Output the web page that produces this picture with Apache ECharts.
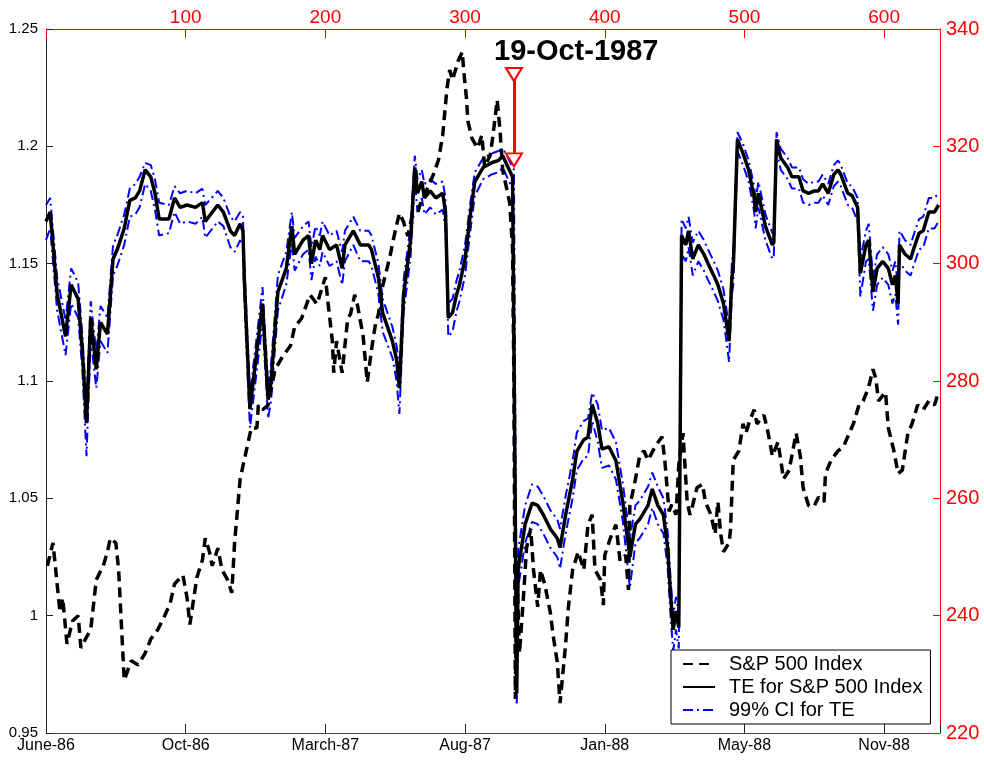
<!DOCTYPE html>
<html><head><meta charset="utf-8">
<script src="https://cdn.jsdelivr.net/npm/echarts@6/dist/echarts.min.js"></script>
<style>html,body{margin:0;padding:0;background:#fff}#c{width:984px;height:762px}</style>
</head><body><div id="c"></div>
<script>
// Bottom axis date labels at trading-day positions (top axis shows the day index)
const dateTicks = [0, 100, 200, 300, 400, 500, 600];
const dateLabels = ['June-86', 'Oct-86', 'March-87', 'Aug-87', 'Jan-88', 'May-88', 'Nov-88'];

// TE for S&P 500 Index (left axis)
const teDays = [
  0,3,8,14,18,23,26,29,32,36,
  39,44,48,51,56,60,64,67,71,75,
  78,81,88,92,96,101,107,112,114,123,
  127,132,135,139,141,142,146,155,159,161,
  166,172,176,178,184,188,190,193,196,198,
  203,208,212,214,220,225,231,233,238,241,
  248,251,253,256,261,264,266,269,271,275,
  279,284,286,288,291,294,296,300,304,307,
  313,319,324,327,330,334,335,337,338,343,
  348,352,356,361,366,368,372,377,380,385,
  388,391,395,398,403,408,413,418,422,425,
  431,434,438,442,445,447,449,451,453,455,
  458,460,463,467,471,474,478,481,485,488,
  489,491,492,495,499,503,507,508,510,515,
  520,521,523,526,531,534,539,542,546,550,
  553,556,560,564,567,569,574,577,581,583,
  587,589,592,595,599,603,606,608,610,611,
  615,619,621,625,628,632,636,639
];
const teValues = [
  1.168,1.172,1.137,1.119,1.141,1.135,1.113,1.082,1.127,1.105,
  1.125,1.120,1.152,1.156,1.165,1.177,1.178,1.181,1.190,1.187,
  1.180,1.169,1.169,1.178,1.174,1.175,1.174,1.176,1.168,1.175,
  1.172,1.164,1.162,1.167,1.164,1.143,1.088,1.133,1.092,1.099,
  1.138,1.148,1.166,1.154,1.160,1.162,1.150,1.160,1.156,1.162,
  1.156,1.158,1.148,1.158,1.164,1.158,1.158,1.156,1.144,1.129,
  1.117,1.109,1.097,1.137,1.160,1.191,1.180,1.185,1.178,1.181,
  1.178,1.180,1.172,1.127,1.129,1.137,1.141,1.152,1.172,1.185,
  1.191,1.193,1.194,1.196,1.192,1.187,1.187,0.967,1.020,1.039,
  1.048,1.047,1.043,1.037,1.033,1.029,1.043,1.058,1.070,1.075,
  1.076,1.090,1.082,1.071,1.072,1.066,1.048,1.025,1.039,1.041,
  1.047,1.054,1.047,1.043,1.029,1.010,0.994,1.002,0.995,1.162,
  1.158,1.164,1.152,1.158,1.154,1.150,1.145,1.141,1.133,1.121,
  1.117,1.144,1.148,1.203,1.197,1.190,1.178,1.172,1.180,1.166,
  1.158,1.159,1.203,1.195,1.191,1.187,1.187,1.181,1.180,1.181,
  1.181,1.184,1.180,1.188,1.190,1.188,1.180,1.179,1.174,1.146,
  1.158,1.160,1.138,1.148,1.151,1.148,1.141,1.145,1.133,1.158,
  1.154,1.152,1.156,1.163,1.164,1.172,1.172,1.175
];
// 99% CI for TE, upper and lower bounds (same day positions as TE)
const ciUpper = [
  1.175,1.178,1.144,1.126,1.148,1.142,1.120,1.090,1.134,1.112,
  1.132,1.127,1.158,1.162,1.171,1.182,1.184,1.187,1.193,1.192,
  1.186,1.176,1.175,1.183,1.180,1.181,1.180,1.182,1.175,1.181,
  1.178,1.170,1.168,1.172,1.170,1.150,1.094,1.140,1.098,1.106,
  1.145,1.155,1.172,1.161,1.166,1.168,1.157,1.166,1.162,1.168,
  1.162,1.164,1.155,1.164,1.170,1.164,1.164,1.162,1.150,1.135,
  1.123,1.115,1.104,1.143,1.166,1.196,1.186,1.190,1.184,1.186,
  1.184,1.185,1.178,1.133,1.135,1.143,1.147,1.158,1.177,1.189,
  1.195,1.197,1.198,1.199,1.196,1.191,1.190,0.970,1.028,1.047,
  1.056,1.055,1.051,1.045,1.041,1.037,1.051,1.066,1.078,1.083,
  1.084,1.095,1.090,1.079,1.080,1.074,1.056,1.033,1.047,1.049,
  1.055,1.061,1.055,1.050,1.036,1.017,1.000,1.008,1.001,1.169,
  1.165,1.170,1.159,1.164,1.160,1.156,1.151,1.147,1.139,1.127,
  1.122,1.150,1.154,1.206,1.201,1.194,1.183,1.177,1.185,1.171,
  1.163,1.164,1.206,1.199,1.195,1.191,1.191,1.186,1.184,1.185,
  1.185,1.188,1.184,1.192,1.194,1.192,1.184,1.183,1.178,1.152,
  1.164,1.167,1.144,1.154,1.157,1.154,1.147,1.151,1.139,1.164,
  1.160,1.158,1.162,1.169,1.170,1.178,1.178,1.180
];
const ciLower = [
  1.160,1.165,1.130,1.111,1.133,1.127,1.105,1.068,1.118,1.097,
  1.117,1.112,1.145,1.149,1.158,1.170,1.171,1.174,1.184,1.181,
  1.173,1.162,1.163,1.172,1.167,1.168,1.167,1.170,1.161,1.168,
  1.166,1.157,1.155,1.160,1.157,1.135,1.080,1.125,1.084,1.091,
  1.130,1.141,1.159,1.147,1.154,1.156,1.143,1.153,1.149,1.155,
  1.149,1.151,1.141,1.151,1.158,1.151,1.151,1.149,1.137,1.121,
  1.110,1.100,1.086,1.129,1.153,1.185,1.172,1.178,1.171,1.174,
  1.171,1.173,1.165,1.119,1.121,1.130,1.134,1.145,1.165,1.179,
  1.186,1.188,1.189,1.191,1.187,1.182,1.182,0.962,1.012,1.031,
  1.040,1.039,1.035,1.029,1.025,1.020,1.035,1.050,1.062,1.067,
  1.068,1.083,1.074,1.063,1.064,1.058,1.040,1.012,1.031,1.033,
  1.039,1.046,1.039,1.035,1.021,1.001,0.985,0.994,0.986,1.154,
  1.151,1.157,1.145,1.151,1.147,1.143,1.138,1.134,1.126,1.113,
  1.108,1.137,1.141,1.198,1.192,1.185,1.172,1.165,1.174,1.160,
  1.152,1.153,1.198,1.190,1.186,1.182,1.182,1.176,1.175,1.176,
  1.176,1.179,1.175,1.183,1.185,1.183,1.175,1.174,1.168,1.136,
  1.151,1.152,1.130,1.141,1.144,1.141,1.133,1.137,1.124,1.151,
  1.147,1.145,1.149,1.156,1.157,1.165,1.165,1.168
];

// S&P 500 Index (right axis)
const spDays = [
  1,5,10,12,15,19,23,25,28,32,
  36,41,44,46,50,52,56,61,66,71,
  75,80,85,89,92,98,101,103,108,112,
  114,117,119,123,126,130,133,135,139,144,
  147,151,152,155,159,164,170,175,178,183,
  189,194,198,200,202,205,206,208,212,216,
  218,221,223,227,230,233,236,238,241,246,
  250,253,256,259,262,266,268,271,277,281,
  284,287,289,291,295,298,299,301,302,305,
  309,312,314,318,320,323,325,327,330,332,
  334,335,336,337,339,342,344,347,349,352,
  354,357,361,363,366,368,372,374,377,381,
  385,388,391,393,397,399,400,404,408,411,
  415,417,418,422,425,428,431,436,441,443,
  446,448,451,453,456,459,461,463,466,470,
  472,476,479,481,483,485,489,490,492,496,
  499,501,504,507,509,514,517,520,524,526,
  528,532,537,540,542,546,550,553,557,558,
  562,567,571,575,578,582,585,589,592,594,
  596,601,603,607,610,613,617,620,624,628,
  632,636,639
];
const spValues = [
  248.5,252.4,240.6,243.0,235.2,239.1,240.0,234.5,235.9,237.6,
  246.1,248.5,250.9,253.2,252.4,247.8,229.0,232.3,231.6,233.6,
  236.0,237.6,240.0,242.2,245.4,246.9,243.0,238.5,246.5,249.5,
  253.2,250.9,248.5,251.5,247.8,246.1,243.9,252.4,263.3,268.8,
  272.0,272.0,275.9,275.1,275.9,282.0,284.4,286.0,289.2,290.7,
  294.7,293.1,296.2,297.7,293.1,286.8,281.4,286.8,281.4,290.7,
  291.4,294.7,292.9,287.7,279.8,285.3,289.9,291.4,296.2,301.0,
  305.6,308.6,307.1,304.7,308.0,308.6,310.2,311.7,315.0,317.7,
  321.9,329.8,333.0,331.3,334.5,336.1,333.0,328.2,324.3,321.3,
  319.7,321.9,316.5,318.5,321.9,327.9,322.8,315.8,312.6,310.3,
  302.5,279.0,225.8,247.8,233.6,243.9,251.5,254.8,247.8,241.5,
  247.8,245.4,240.6,236.7,232.1,225.1,235.2,241.5,247.8,250.9,
  247.8,255.5,257.2,247.8,246.1,241.8,250.3,253.2,255.5,249.3,
  250.3,244.4,258.7,263.3,267.2,268.1,266.5,268.8,270.5,266.5,
  257.8,258.9,257.2,265.7,271.1,259.4,257.2,258.9,261.8,262.4,
  259.4,257.2,253.9,259.4,253.9,250.9,252.4,254.6,266.5,268.1,
  272.7,271.1,273.4,275.1,272.7,274.2,271.1,267.2,269.6,266.5,
  263.3,264.8,271.1,267.2,261.8,258.7,258.7,260.2,259.4,264.2,
  266.5,268.1,268.8,271.1,272.7,275.9,276.6,279.0,282.0,280.5,
  276.6,278.1,272.0,268.1,264.2,264.8,271.1,272.7,275.9,275.1,
  276.6,275.9,278.1
];

// Event annotation
const eventLabel = '19-Oct-1987';
const eventDay = 335;
const arrowTop = 1.2306;
const arrowHead = 1.1942;

const zip = (xs, ys) => xs.map((x, i) => [x, ys[i]]);
const FONT = 'Liberation Sans, Arial, Helvetica, sans-serif';
const labelMap = {};
dateTicks.forEach((t, i) => { labelMap[t] = dateLabels[i]; });

const chart = echarts.init(document.getElementById('c'), null, {renderer: 'canvas'});
chart.setOption({
  animation: false,
  backgroundColor: '#ffffff',
  title: {
    text: eventLabel, left: 494, top: 37, padding: 0,
    textStyle: {fontFamily: FONT, fontSize: 29, fontWeight: 'bold', color: '#000'}
  },
  grid: {left: 46, right: 44, top: 29, bottom: 29, containLabel: false},
  legend: {
    data: ['S&P 500 Index', 'TE for S&P 500 Index', '99% CI for TE'],
    orient: 'vertical', left: 671, top: 650,
    padding: [4, 8, 4, 11], itemGap: 3, itemWidth: 32, itemHeight: 14,
    backgroundColor: '#fff', borderColor: '#000', borderWidth: 1, borderRadius: 0,
    itemStyle: {color: 'rgba(0,0,0,0)', borderColor: 'rgba(0,0,0,0)', borderWidth: 0},
    textStyle: {fontFamily: FONT, fontSize: 20, color: '#000', padding: [0, 0, 0, 9]},
    selectedMode: false
  },
  xAxis: [
    {
      type: 'value', position: 'bottom', min: 0, max: 640, interval: 100,
      axisLine: {show: true, onZero: false, lineStyle: {color: '#444', width: 1}},
      axisTick: {show: true, inside: true, length: 9, lineStyle: {color: '#222'}},
      axisLabel: {
        fontFamily: FONT, fontSize: 16, color: '#000', margin: 5,
        formatter: v => (labelMap[v] !== undefined ? labelMap[v] : '')
      },
      splitLine: {show: false}
    },
    {
      type: 'value', position: 'top', min: 0, max: 640, interval: 100,
      axisLine: {show: true, onZero: false, lineStyle: {color: '#ff0000', width: 1}},
      axisTick: {show: true, inside: true, length: 9, lineStyle: {color: '#ff0000'}},
      axisLabel: {
        fontFamily: FONT, fontSize: 19, color: '#ff0000', margin: 2,
        formatter: v => (v > 0 && v % 100 === 0 ? String(v) : '')
      },
      splitLine: {show: false}
    }
  ],
  yAxis: [
    {
      type: 'value', position: 'left', min: 0.95, max: 1.25, interval: 0.05,
      axisLine: {show: true, onZero: false, lineStyle: {color: '#222', width: 1}},
      axisTick: {show: true, inside: true, length: 7, lineStyle: {color: '#222'}},
      axisLabel: {
        fontFamily: FONT, fontSize: 15, color: '#000', margin: 8,
        formatter: v => String(+v.toFixed(2))
      },
      splitLine: {show: false}
    },
    {
      type: 'value', position: 'right', min: 220, max: 340, interval: 20,
      axisLine: {show: true, onZero: false, lineStyle: {color: '#ff0000', width: 1}},
      axisTick: {show: true, inside: true, length: 7, lineStyle: {color: '#ff0000'}},
      axisLabel: {fontFamily: FONT, fontSize: 20, color: '#ff0000', margin: 6},
      splitLine: {show: false}
    }
  ],
  series: [
    {
      name: '99% CI for TE', type: 'line', xAxisIndex: 0, yAxisIndex: 0,
      data: zip(teDays, ciUpper), symbol: 'none', silent: true, z: 2,
      lineStyle: {color: '#0000ff', width: 2, type: [10, 4, 2, 4]},
      itemStyle: {color: '#0000ff'}
    },
    {
      name: '99% CI for TE', type: 'line', xAxisIndex: 0, yAxisIndex: 0,
      data: zip(teDays, ciLower), symbol: 'none', silent: true, z: 2,
      lineStyle: {color: '#0000ff', width: 2, type: [10, 4, 2, 4]},
      itemStyle: {color: '#0000ff'}
    },
    {
      name: 'TE for S&P 500 Index', type: 'line', xAxisIndex: 0, yAxisIndex: 0,
      data: zip(teDays, teValues), symbol: 'none', silent: true, z: 3,
      lineStyle: {color: '#000', width: 3.5, type: 'solid'},
      itemStyle: {color: '#000'},
      markLine: {
        silent: true, symbol: ['none', 'none'], label: {show: false},
        lineStyle: {color: '#ff0000', width: 3, type: 'solid'},
        emphasis: {disabled: true},
        data: [[{coord: [eventDay, arrowTop]}, {coord: [eventDay, arrowHead]}]]
      },
      markPoint: {
        silent: true, symbol: 'triangle', symbolRotate: 180, symbolSize: [16, 13],
        label: {show: false},
        itemStyle: {color: '#ffffff', borderColor: '#ff0000', borderWidth: 2},
        data: [{coord: [eventDay, arrowTop]}, {coord: [eventDay, arrowHead]}]
      }
    },
    {
      name: 'S&P 500 Index', type: 'line', xAxisIndex: 0, yAxisIndex: 1,
      data: zip(spDays, spValues), symbol: 'none', silent: true, z: 4,
      lineStyle: {color: '#000', width: 3.5, type: [10, 6]},
      itemStyle: {color: '#000'}
    }
  ]
});
</script>
</body></html>
